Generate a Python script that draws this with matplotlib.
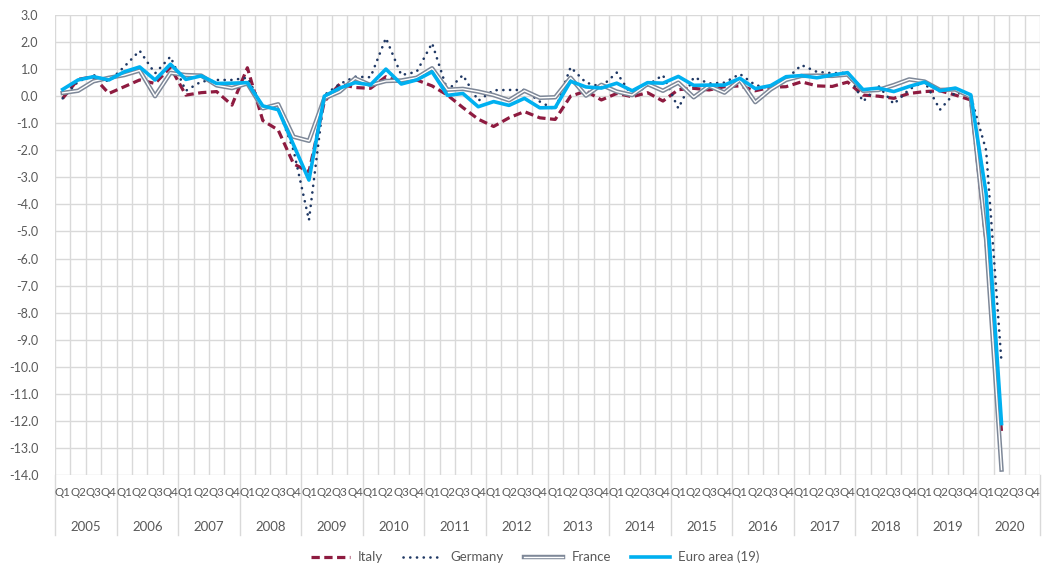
import matplotlib
matplotlib.use("Agg")
import matplotlib.pyplot as plt
import matplotlib.transforms as mtransforms
import matplotlib.patheffects as pe
from matplotlib.lines import Line2D
import numpy as np

years = [str(y) for y in range(2005, 2021)]
quarters = ["Q1", "Q2", "Q3", "Q4"]

italy = [-0.08, 0.62, 0.72, 0.10,
         0.35, 0.60, 0.47, 1.07,
         0.04, 0.13, 0.17, -0.33,
         1.05, -0.90, -1.25, -2.50,
         -2.80, -0.20, 0.45, 0.32,
         0.29, 0.72, 0.50, 0.60,
         0.38, 0.04, -0.42, -0.85,
         -1.12, -0.80, -0.57, -0.80,
         -0.86, 0.00, 0.19, -0.14,
         0.10, -0.02, 0.13, -0.18,
         0.24, 0.29, 0.23, 0.35,
         0.38, 0.20, 0.33, 0.35,
         0.53, 0.38, 0.36, 0.52,
         0.04, 0.00, -0.08, 0.10,
         0.17, 0.20, 0.04, -0.14,
         -5.40, -12.40]

germany = [-0.08, 0.54, 0.78, 0.54,
           1.09, 1.68, 0.84, 1.46,
           0.20, 0.54, 0.60, 0.60,
           0.68, -0.40, -0.45, -2.00,
           -4.58, 0.04, 0.45, 0.72,
           0.70, 2.15, 0.78, 0.90,
           1.96, 0.20, 0.78, -0.17,
           0.22, 0.23, 0.23, -0.20,
           -0.50, 1.07, 0.50, 0.35,
           0.87, 0.00, 0.40, 0.78,
           -0.45, 0.70, 0.47, 0.50,
           0.82, 0.41, 0.29, 0.62,
           1.15, 0.90, 0.85, 0.87,
           -0.20, 0.38, -0.29, 0.25,
           0.55, -0.50, 0.15, 0.00,
           -2.00, -9.85]

france = [0.12, 0.20, 0.55, 0.68,
          0.78, 0.95, 0.00, 0.86,
          0.78, 0.76, 0.40, 0.30,
          0.47, -0.45, -0.30, -1.50,
          -1.65, -0.08, 0.17, 0.66,
          0.41, 0.56, 0.58, 0.68,
          1.03, 0.24, 0.27, 0.17,
          0.04, -0.15, 0.20, -0.06,
          -0.04, 0.68, 0.02, 0.42,
          0.17, 0.04, 0.45, 0.20,
          0.50, -0.04, 0.38, 0.13,
          0.60, -0.22, 0.25, 0.60,
          0.75, 0.76, 0.75, 0.80,
          0.20, 0.23, 0.41, 0.62,
          0.54, 0.23, 0.25, -0.02,
          -5.30, -13.80]

euro_area = [0.25, 0.60, 0.72, 0.60,
             0.90, 1.08, 0.60, 1.18,
             0.62, 0.75, 0.47, 0.48,
             0.50, -0.36, -0.50, -1.80,
             -3.10, 0.00, 0.30, 0.50,
             0.42, 1.00, 0.45, 0.60,
             0.90, 0.03, 0.10, -0.39,
             -0.20, -0.34, -0.08, -0.43,
             -0.42, 0.55, 0.34, 0.30,
             0.48, 0.20, 0.50, 0.48,
             0.73, 0.40, 0.41, 0.41,
             0.66, 0.28, 0.39, 0.72,
             0.76, 0.68, 0.78, 0.87,
             0.24, 0.30, 0.17, 0.36,
             0.52, 0.20, 0.30, 0.05,
             -3.60, -12.10]

n_cat = len(years) * 4
x = np.arange(len(euro_area))

plt.rcParams['font.family'] = ['Lato', 'DejaVu Sans']
fig = plt.figure(figsize=(10.43, 5.64), dpi=100)
ax = fig.add_axes([55/1043, 1-475/564, (1040-55)/1043, (475-15)/564])

grid_c = '#D9D9D9'
txt_c = '#595959'
fr_c = '#7E8898'
it_c = '#8E1B40'
de_c = '#1F3864'
ea_c = '#00B0F0'

ax.set_xlim(-0.5, n_cat - 0.5)
ax.set_ylim(-14, 3)
yt = np.arange(-14, 3.01, 1)
ax.set_yticks(yt)
ax.set_yticklabels([f"{v:.1f}" for v in yt], color=txt_c, fontsize=9)
ax.set_xticks(np.arange(-0.5, n_cat, 1))
ax.set_xticklabels([])
ax.tick_params(axis='both', length=0)
ax.tick_params(axis='y', pad=12)
ax.grid(True, color=grid_c, linewidth=1.0)
ax.set_axisbelow(True)
for s in ax.spines.values():
    s.set_visible(False)

fr_effects = [pe.Stroke(linewidth=3.2, foreground=fr_c), pe.Normal()]

ax.plot(x, italy, color=it_c, linewidth=2.3, dashes=(2.6, 1.4),
        solid_capstyle='butt', zorder=3)
ax.plot(x, germany, color=de_c, linewidth=1.9, dashes=(0.05, 2.5),
        dash_capstyle='round', zorder=4)
ax.plot(x, france, color='white', linewidth=1.0, zorder=5,
        path_effects=fr_effects)
ax.plot(x, euro_area, color=ea_c, linewidth=2.6, zorder=6,
        solid_joinstyle='round')

trans = mtransforms.blended_transform_factory(ax.transData, ax.transAxes)
for i in range(n_cat):
    ax.text(i, -18/460, quarters[i % 4], transform=trans, ha='center', va='center',
            fontsize=8.3, color=txt_c)
for k, yr in enumerate(years):
    ax.text(4*k + 1.5, -52/460, yr, transform=trans, ha='center', va='center',
            fontsize=9.5, color=txt_c)
for k in range(len(years) + 1):
    ax.plot([4*k - 0.5, 4*k - 0.5], [0, -60/460], transform=trans, color=grid_c,
            linewidth=1.0, clip_on=False)

h_it = Line2D([], [], color=it_c, linewidth=2.3, dashes=(2.6, 1.4))
h_de = Line2D([], [], color=de_c, linewidth=1.9, dashes=(0.05, 2.5),
              dash_capstyle='round')
h_fr = Line2D([], [], color='white', linewidth=1.0, path_effects=fr_effects)
h_ea = Line2D([], [], color=ea_c, linewidth=2.6)
leg = fig.legend([h_it, h_de, h_fr, h_ea], ['Italy', 'Germany', 'France', 'Euro area (19)'],
                 loc='center', bbox_to_anchor=(0.513, 1-557/564), ncol=4, frameon=False,
                 fontsize=9.5, handlelength=3.0, handletextpad=0.6, columnspacing=1.5)
for t in leg.get_texts():
    t.set_color(txt_c)

fig.savefig('out.png', dpi=100)
